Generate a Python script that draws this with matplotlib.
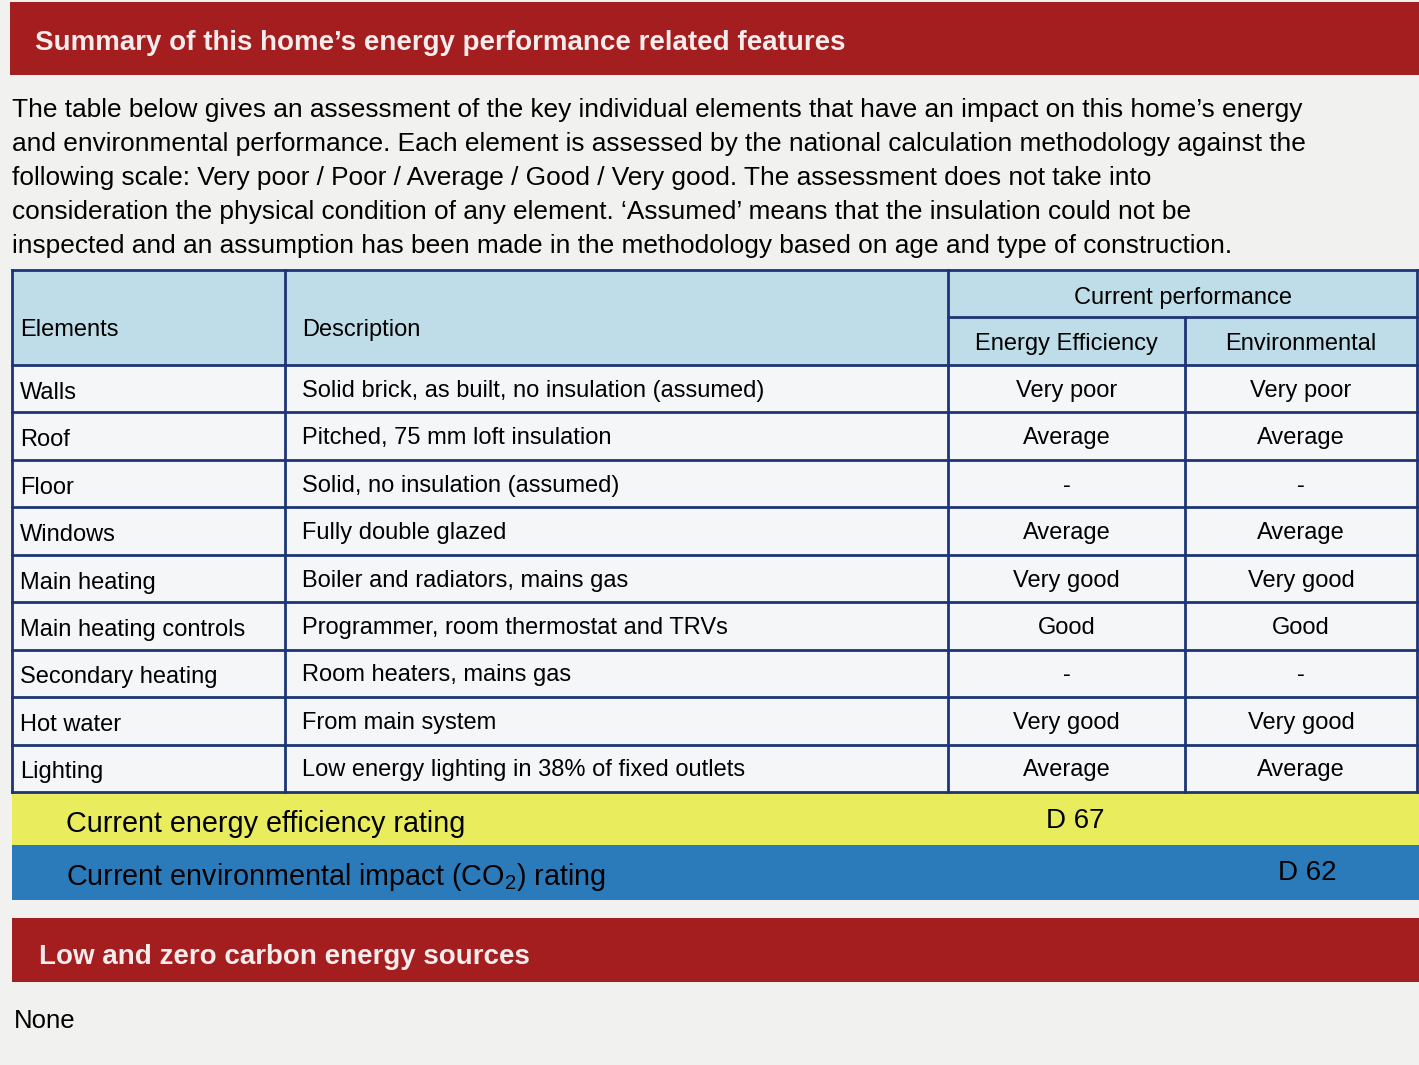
import matplotlib
matplotlib.use("Agg")
import matplotlib.pyplot as plt
from matplotlib.patches import Rectangle

plt.rcParams["mathtext.fontset"] = "custom"
plt.rcParams["mathtext.rm"] = "Liberation Sans"
plt.rcParams["mathtext.it"] = "Liberation Sans"

# ---------------- data ----------------
title = "Summary of this home\u2019s energy performance related features"
intro_lines = [
    "The table below gives an assessment of the key individual elements that have an impact on this home\u2019s energy",
    "and environmental performance. Each element is assessed by the national calculation methodology against the",
    "following scale: Very poor / Poor / Average / Good / Very good. The assessment does not take into",
    "consideration the physical condition of any element. \u2018Assumed\u2019 means that the insulation could not be",
    "inspected and an assumption has been made in the methodology based on age and type of construction.",
]
header_cols = ["Elements", "Description"]
header_group = "Current performance"
header_sub = ["Energy Efficiency", "Environmental"]
elements = ["Walls", "Roof", "Floor", "Windows", "Main heating", "Main heating controls",
            "Secondary heating", "Hot water", "Lighting"]
descriptions = ["Solid brick, as built, no insulation (assumed)",
                "Pitched, 75 mm loft insulation",
                "Solid, no insulation (assumed)",
                "Fully double glazed",
                "Boiler and radiators, mains gas",
                "Programmer, room thermostat and TRVs",
                "Room heaters, mains gas",
                "From main system",
                "Low energy lighting in 38% of fixed outlets"]
energy_eff = ["Very poor", "Average", "-", "Average", "Very good", "Good", "-", "Very good", "Average"]
environmental = ["Very poor", "Average", "-", "Average", "Very good", "Good", "-", "Very good", "Average"]
rating_labels = ["Current energy efficiency rating", "Current environmental impact (CO$_2$) rating"]
rating_values = ["D 67", "D 62"]
section2_title = "Low and zero carbon energy sources"
section2_text = "None"

# ---------------- style ----------------
W, H = 1419, 1065
RED = "#a41d1f"
YELLOW = "#e9ec5c"
BLUE = "#2b7bbb"
HEAD_BG = "#bfdde8"
ROW_BG = "#f4f6f8"
PAGE_BG = "#f1f1ef"
LINE = "#1d3576"
FONT = "Liberation Sans"

fig = plt.figure(figsize=(W / 100, H / 100), dpi=100)
fig.patch.set_facecolor(PAGE_BG)
ax = fig.add_axes([0, 0, 1, 1])
ax.set_xlim(0, W)
ax.set_ylim(H, 0)
ax.axis("off")

def rect(x0, y0, x1, y1, color, z=1):
    ax.add_patch(Rectangle((x0, y0), x1 - x0, y1 - y0, facecolor=color, edgecolor="none", zorder=z))

def txt(x, y, s, size, ha="left", color="black", weight="normal"):
    ax.text(x, y + 2, s, fontsize=size, ha=ha, va="center", color=color, fontweight=weight,
            family=FONT, zorder=5)

# title bar
rect(10, 2, W, 75, RED)
txt(35, 41, title, 20.0, color="#f6ecec", weight="bold")

# intro paragraph
for i, line in enumerate(intro_lines):
    txt(12, 108 + 34 * i, line, 18.9)

# table geometry
x_cols = [12, 285, 948, 1185, 1417]
y_top, y_sub, y_head = 270, 317, 365
row_h = (792 - y_head) / len(elements)
y_rows = [y_head + row_h * i for i in range(len(elements) + 1)]

rect(x_cols[0], y_top, x_cols[-1], y_head, HEAD_BG)
rect(x_cols[0], y_head, x_cols[-1], y_rows[-1], ROW_BG)

lw = 2.0
ax.plot([x_cols[0], x_cols[-1]], [y_top, y_top], color=LINE, lw=lw, zorder=3)
ax.plot([x_cols[2], x_cols[-1]], [y_sub, y_sub], color=LINE, lw=lw, zorder=3)
for y in y_rows:
    ax.plot([x_cols[0], x_cols[-1]], [y, y], color=LINE, lw=lw, zorder=3)
for j, x in enumerate(x_cols):
    ys = y_sub if j == 3 else y_top
    ax.plot([x, x], [ys, y_rows[-1]], color=LINE, lw=lw, zorder=3)

FS = 17.0
txt(20, 328, header_cols[0], FS)
txt(302, 328, header_cols[1], FS)
txt((x_cols[2] + x_cols[4]) / 2, 296, header_group, FS, ha="center")
txt((x_cols[2] + x_cols[3]) / 2, 342, header_sub[0], FS, ha="center")
txt((x_cols[3] + x_cols[4]) / 2, 342, header_sub[1], FS, ha="center")

for i in range(len(elements)):
    yc = (y_rows[i] + y_rows[i + 1]) / 2
    txt(20, yc + 2, elements[i], FS)
    txt(302, yc, descriptions[i], FS)
    txt((x_cols[2] + x_cols[3]) / 2, yc, energy_eff[i], FS, ha="center")
    txt((x_cols[3] + x_cols[4]) / 2, yc, environmental[i], FS, ha="center")

# rating bars
rect(12, 792, W, 845, YELLOW)
rect(12, 845, W, 900, BLUE)
txt(66, 822, rating_labels[0], 20.7)
txt(1075, 819, rating_values[0], 20.0, ha="center")
txt(66, 875, rating_labels[1], 20.7)
txt(1307, 871, rating_values[1], 20.0, ha="center")

# section 2
rect(12, 918, W, 982, RED)
txt(39, 955, section2_title, 20.0, color="#f6ecec", weight="bold")
txt(14, 1019, section2_text, 18.5)

fig.savefig("out.png", dpi=100, facecolor=fig.get_facecolor())
